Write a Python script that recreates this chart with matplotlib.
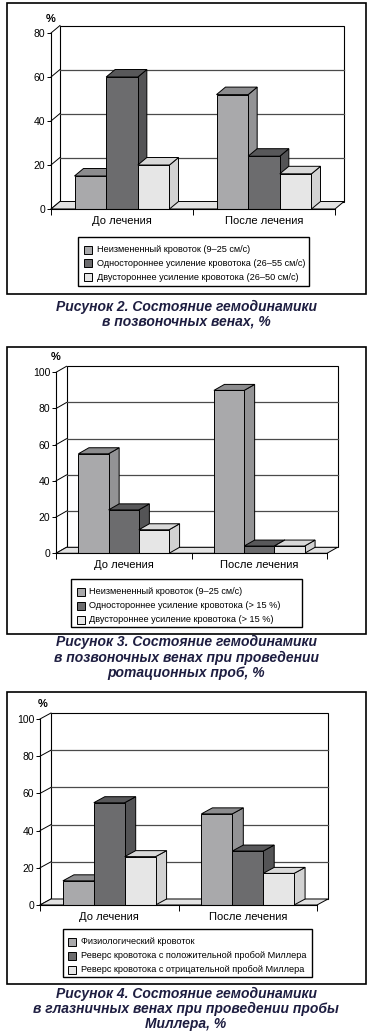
import matplotlib
matplotlib.use("Agg")
import matplotlib.pyplot as plt
from matplotlib.patches import Rectangle, Polygon

plt.rcParams['font.family'] = ['Liberation Sans', 'DejaVu Sans']

# ---------------- data ----------------
categories = ["До лечения", "После лечения"]

p1_series = ["Неизмененный кровоток (9–25 см/с)",
             "Одностороннее усиление кровотока (26–55 см/с)",
             "Двустороннее усиление кровотока (26–50 см/с)"]
p1_unchanged = [15, 52]
p1_one_side = [60, 24]
p1_two_side = [20, 16]
p1_yticks = [0, 20, 40, 60, 80]
p1_caption = "Рисунок 2. Состояние гемодинамики\nв позвоночных венах, %"

p2_series = ["Неизмененный кровоток (9–25 см/с)",
             "Одностороннее усиление кровотока (> 15 %)",
             "Двустороннее усиление кровотока (> 15 %)"]
p2_unchanged = [55, 90]
p2_one_side = [24, 4]
p2_two_side = [13, 4]
p2_yticks = [0, 20, 40, 60, 80, 100]
p2_caption = ("Рисунок 3. Состояние гемодинамики\n"
              "в позвоночных венах при проведении\nротационных проб, %")

p3_series = ["Физиологический кровоток",
             "Реверс кровотока с положительной пробой Миллера",
             "Реверс кровотока с отрицательной пробой Миллера"]
p3_physio = [13, 49]
p3_rev_pos = [55, 29]
p3_rev_neg = [26, 17]
p3_yticks = [0, 20, 40, 60, 80, 100]
p3_caption = ("Рисунок 4. Состояние гемодинамики\n"
              "в глазничных венах при проведении пробы\nМиллера, %")

# ---------------- style ----------------
FRONT = ["#a9a9ab", "#6c6c6e", "#e6e6e6"]
SIDE = ["#939395", "#545456", "#d2d2d2"]
TOP = ["#8c8c8e", "#58585a", "#d9d9d9"]
CAPTION_COLOR = "#1d1d40"

W, H = 370, 1036
fig = plt.figure(figsize=(W / 100, H / 100), dpi=100)


def fx(x):
    return x / W


def fy(y):
    return 1 - y / H


def box(x0, y0, x1, y1, lw=1.2, fc="none"):
    fig.add_artist(Rectangle((fx(x0), fy(y1)), fx(x1) - fx(x0), fy(y0) - fy(y1),
                             transform=fig.transFigure, fill=(fc != "none"),
                             facecolor=fc, edgecolor="black", linewidth=lw))


def panel(frame, axpx, yticks, series_vals, series_names, dpx, legend, caption,
          caption_y, pct_xy):
    # outer frame
    box(*frame)
    left, right, y0, ytop = axpx
    ax = fig.add_axes([fx(left), fy(y0), fx(right) - fx(left), fy(ytop) - fy(y0)])
    ymax = yticks[-1]
    ax.set_xlim(-0.5, 1.5)
    ax.set_ylim(0, ymax)
    ax.patch.set_visible(False)
    # depth in data units
    ddx = dpx[0] * 2.0 / (right - left)
    ddy = dpx[1] * ymax / (y0 - ytop)

    z = 1
    # back wall
    ax.add_patch(Rectangle((-0.5 + ddx, ddy), 2.0, ymax, facecolor="white",
                           edgecolor="black", linewidth=0.8, clip_on=False, zorder=z))
    # gridlines on back wall + diagonals on left wall
    for v in yticks:
        if 0 < v < ymax:
            ax.plot([-0.5 + ddx, 1.5 + ddx], [v + ddy, v + ddy], color="#4a4a4a",
                    linewidth=0.9, clip_on=False, zorder=z + 0.1)
        ax.plot([-0.5, -0.5 + ddx], [v, v + ddy], color="black", linewidth=0.7,
                clip_on=False, zorder=z + 0.1)
    # floor
    ax.add_patch(Polygon([(-0.5, 0), (1.5, 0), (1.5 + ddx, ddy), (-0.5 + ddx, ddy)],
                         closed=True, facecolor="#e2e2e2", edgecolor="black",
                         linewidth=0.7, clip_on=False, zorder=z + 0.2))

    # bars
    bw = 0.223
    n = len(series_vals)
    zz = 3
    for ci in range(len(categories)):
        for si in range(n):
            h = series_vals[si][ci]
            xc = ci + (si - (n - 1) / 2) * bw
            x0, x1 = xc - bw / 2, xc + bw / 2
            ax.add_patch(Polygon([(x1, 0), (x1 + ddx, ddy), (x1 + ddx, h + ddy), (x1, h)],
                                 closed=True, facecolor=SIDE[si], edgecolor="black",
                                 linewidth=0.7, clip_on=False, zorder=zz))
            ax.add_patch(Polygon([(x0, h), (x1, h), (x1 + ddx, h + ddy), (x0 + ddx, h + ddy)],
                                 closed=True, facecolor=TOP[si], edgecolor="black",
                                 linewidth=0.7, clip_on=False, zorder=zz + 0.1))
            ax.bar([xc], [h], width=bw, color=FRONT[si], edgecolor="black",
                   linewidth=0.7, zorder=zz + 0.2, clip_on=False)
            zz += 1

    # axes styling
    for s in ["top", "right"]:
        ax.spines[s].set_visible(False)
    ax.spines["left"].set_linewidth(0.8)
    ax.spines["bottom"].set_linewidth(0.8)
    ax.spines["left"].set_zorder(50)
    ax.spines["bottom"].set_zorder(50)
    ax.set_yticks(yticks)
    ax.set_yticklabels([str(v) for v in yticks])
    ax.tick_params(axis="y", length=3, width=0.7, pad=1, labelsize=7.5)
    ax.set_xticks([0, 1])
    ax.set_xticklabels(categories)
    ax.tick_params(axis="x", which="major", length=0, pad=5, labelsize=8)
    ax.set_xticks([-0.5, 0.5, 1.5], minor=True)
    ax.tick_params(axis="x", which="minor", length=4, width=0.7)

    fig.text(fx(pct_xy[0]), fy(pct_xy[1]), "%", ha="center", va="center",
             fontsize=8, fontweight="bold")

    # legend
    lx0, ly0, lx1, ly1, sqx, txx, rows = legend
    box(lx0, ly0, lx1, ly1, lw=1.0, fc="white")
    for si, (name, ry) in enumerate(zip(series_names, rows)):
        fig.add_artist(Rectangle((fx(sqx), fy(ry + 4)), fx(8), 8 / H,
                                 transform=fig.transFigure, facecolor=FRONT[si],
                                 edgecolor="black", linewidth=0.7))
        fig.text(fx(txx), fy(ry), name, ha="left", va="center", fontsize=6.6)

    # caption
    for i, line in enumerate(caption.split("\n")):
        fig.text(fx(186), fy(caption_y[i]), line, ha="center", va="center",
                 fontsize=10, fontweight="bold", style="italic", color=CAPTION_COLOR)


panel(frame=(7, 3, 366, 294), axpx=(51, 335, 209, 33), yticks=p1_yticks,
      series_vals=[p1_unchanged, p1_one_side, p1_two_side], series_names=p1_series,
      dpx=(9, 7.5),
      legend=(78, 237, 309, 286, 84, 97, [249.5, 263, 277]),
      caption=p1_caption, caption_y=[307, 322], pct_xy=(51, 19))

panel(frame=(7, 347, 366, 634), axpx=(56, 327, 553.3, 372.3), yticks=p2_yticks,
      series_vals=[p2_unchanged, p2_one_side, p2_two_side], series_names=p2_series,
      dpx=(10.5, 6),
      legend=(71, 579, 302, 627, 77, 89, [591.5, 606, 620]),
      caption=p2_caption, caption_y=[642, 658, 673], pct_xy=(56, 357))

panel(frame=(7, 692, 366, 984), axpx=(40, 317, 905, 719), yticks=p3_yticks,
      series_vals=[p3_physio, p3_rev_pos, p3_rev_neg], series_names=p3_series,
      dpx=(11, 6),
      legend=(63, 929, 312, 977, 68, 81, [942, 956, 969.5]),
      caption=p3_caption, caption_y=[994, 1009, 1024], pct_xy=(43, 704))

fig.savefig("out.png", dpi=100)
